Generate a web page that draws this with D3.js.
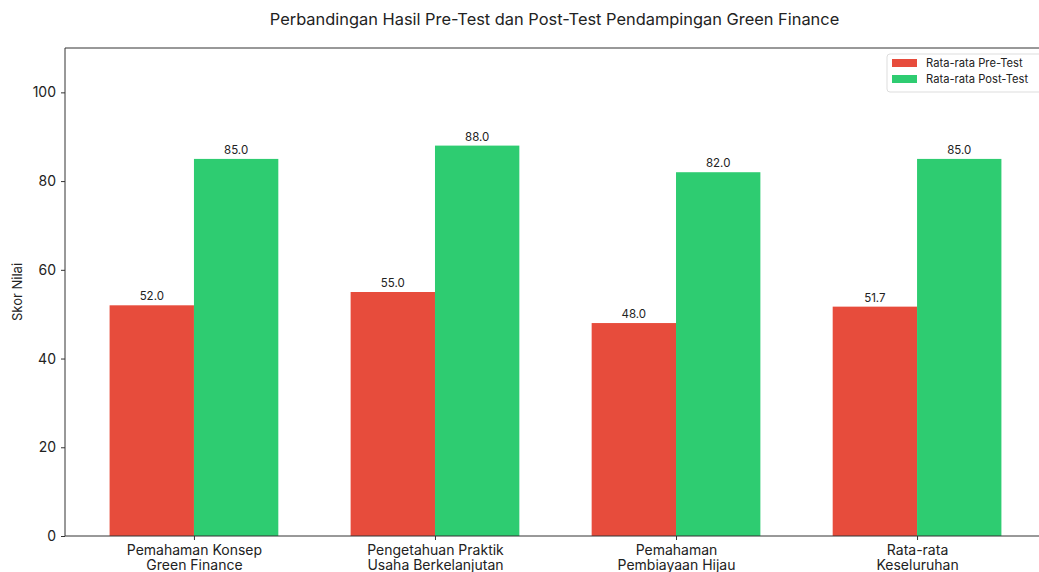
<!DOCTYPE html>
<html>
<head>
<meta charset="utf-8">
<script src="https://cdn.jsdelivr.net/npm/d3@7"></script>
<style>
  body { margin: 0; background: #fff; }
  svg { font-family: Inter, "Open Sans", sans-serif; }
</style>
</head>
<body>
<div id="chart"></div>
<script>
// data
const categories = [
  ['Pemahaman Konsep', 'Green Finance'],
  ['Pengetahuan Praktik', 'Usaha Berkelanjutan'],
  ['Pemahaman', 'Pembiayaan Hijau'],
  ['Rata-rata', 'Keseluruhan']
];
const preTest = [52.0, 55.0, 48.0, 51.7];
const postTest = [85.0, 88.0, 82.0, 85.0];
const yTicks = [0, 20, 40, 60, 80, 100];

const series = [
  { name: 'Rata-rata Pre-Test', values: preTest, color: '#e74c3c', offset: -1 },
  { name: 'Rata-rata Post-Test', values: postTest, color: '#2ecc71', offset: 0 }
];

const W = 1039, H = 572;
const M = { left: 65, right: 1046, top: 48, bottom: 536 };
const barW = 0.35;

const svg = d3.select('#chart').append('svg')
  .attr('width', W).attr('height', H);

const x = d3.scaleLinear().domain([-0.535, 3.535]).range([M.left, M.right]);
const y = d3.scaleLinear().domain([0, 110]).range([M.bottom, M.top]);

// bars
series.forEach(s => {
  const g = svg.append('g');
  g.selectAll('rect')
    .data(s.values)
    .join('rect')
    .attr('x', (d, i) => x(i + s.offset * barW))
    .attr('width', x(barW) - x(0))
    .attr('y', d => y(d))
    .attr('height', d => y(0) - y(d))
    .attr('fill', s.color);

  g.selectAll('text')
    .data(s.values)
    .join('text')
    .attr('x', (d, i) => x(i + s.offset * barW + barW / 2))
    .attr('y', d => y(d) - 5)
    .attr('text-anchor', 'middle')
    .attr('font-size', 11.5)
    .attr('fill', '#222')
    .text(d => d.toFixed(1));
});

// spines
svg.append('path')
  .attr('d', `M${M.left},${M.bottom}V${M.top}H${M.right}V${M.bottom}H${M.left}`)
  .attr('fill', 'none').attr('stroke', '#333').attr('stroke-width', 1);

// y axis
const yAxis = svg.append('g')
  .attr('transform', `translate(${M.left},0)`)
  .call(d3.axisLeft(y).tickValues(yTicks).tickSize(4).tickPadding(5));
yAxis.select('.domain').remove();
yAxis.selectAll('line').attr('stroke', '#333');
yAxis.selectAll('text').attr('font-size', 14).attr('fill', '#222')
  .attr('font-family', 'Inter, "Open Sans", sans-serif');

// x axis
const xAxis = svg.append('g')
  .attr('transform', `translate(0,${M.bottom})`)
  .call(d3.axisBottom(x).tickValues(d3.range(categories.length)).tickSize(4).tickFormat(''));
xAxis.select('.domain').remove();
xAxis.selectAll('line').attr('stroke', '#333');
xAxis.selectAll('.tick').each(function (d) {
  const t = d3.select(this).append('text')
    .attr('text-anchor', 'middle')
    .attr('fill', '#222')
    .attr('font-size', 14)
    .attr('font-family', 'Inter, "Open Sans", sans-serif');
  categories[d].forEach((line, k) => {
    t.append('tspan').attr('x', 0).attr('y', 19 + k * 15).text(line);
  });
});

// y label
svg.append('text')
  .attr('transform', `translate(22,${(M.top + M.bottom) / 2}) rotate(-90)`)
  .attr('text-anchor', 'middle')
  .attr('font-size', 13)
  .attr('fill', '#222')
  .text('Skor Nilai');

// title
svg.append('text')
  .attr('x', (M.left + M.right) / 2 - 1)
  .attr('y', 25)
  .attr('text-anchor', 'middle')
  .attr('font-size', 16.4)
  .attr('fill', '#222')
  .text('Perbandingan Hasil Pre-Test dan Post-Test Pendampingan Green Finance');

// legend
const lg = svg.append('g').attr('transform', 'translate(887,54)');
lg.append('rect')
  .attr('width', 156).attr('height', 38).attr('rx', 3)
  .attr('fill', '#fff').attr('stroke', '#ddd');
series.forEach((s, i) => {
  lg.append('rect')
    .attr('x', 5).attr('y', 5 + i * 16)
    .attr('width', 25).attr('height', 8)
    .attr('fill', s.color);
  lg.append('text')
    .attr('x', 39).attr('y', 13 + i * 16)
    .attr('font-size', 11.2).attr('fill', '#222')
    .text(s.name);
});
</script>
</body>
</html>
